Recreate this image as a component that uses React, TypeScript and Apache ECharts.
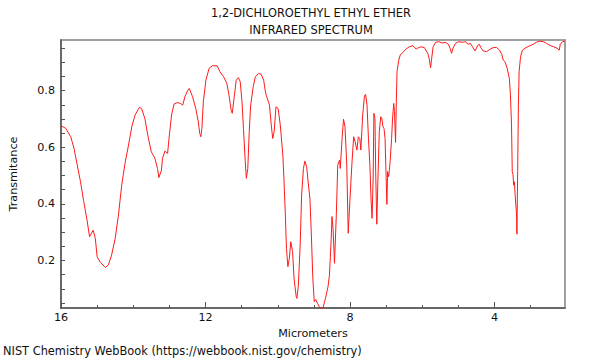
import React, { useEffect, useRef } from "react";
import * as echarts from "echarts";

const wavelengths: number[] = [
  16.0, 15.87, 15.73, 15.64, 15.55, 15.46, 15.37, 15.28, 15.21, 15.11, 15.05, 15.0, 14.91, 14.77, 14.69,
  14.6, 14.5, 14.41, 14.32, 14.22, 14.13, 14.04, 13.95, 13.83, 13.77, 13.68, 13.59, 13.5, 13.4, 13.33,
  13.29, 13.22, 13.19, 13.12, 13.05, 13.01, 12.94, 12.87, 12.77, 12.7, 12.63, 12.57, 12.49, 12.45, 12.36,
  12.27, 12.2, 12.16, 12.13, 12.1, 12.06, 11.99, 11.9, 11.81, 11.68, 11.6, 11.5, 11.41, 11.35, 11.29,
  11.26, 11.2, 11.15, 11.09, 11.04, 10.99, 10.95, 10.9, 10.87, 10.83, 10.79, 10.75, 10.68, 10.62, 10.53,
  10.46, 10.39, 10.35, 10.32, 10.23, 10.18, 10.14, 10.1, 10.05, 9.99, 9.93, 9.86, 9.83, 9.79, 9.76,
  9.72, 9.68, 9.64, 9.59, 9.55, 9.49, 9.47, 9.43, 9.38, 9.34, 9.29, 9.25, 9.2, 9.16, 9.11,
  9.07, 9.03, 8.99, 8.95, 8.9, 8.83, 8.75, 8.68, 8.61, 8.57, 8.52, 8.5, 8.47, 8.43, 8.38,
  8.34, 8.29, 8.27, 8.22, 8.18, 8.14, 8.09, 8.05, 8.01, 7.95, 7.9, 7.86, 7.81, 7.77, 7.73,
  7.7, 7.65, 7.6, 7.57, 7.53, 7.49, 7.45, 7.42, 7.39, 7.36, 7.34, 7.31, 7.29, 7.26, 7.23,
  7.19, 7.15, 7.12, 7.09, 7.06, 7.03, 7.0, 6.98, 6.96, 6.93, 6.89, 6.85, 6.82, 6.79, 6.77,
  6.74, 6.72, 6.7, 6.65, 6.61, 6.54, 6.45, 6.36, 6.26, 6.17, 6.13, 6.04, 5.94, 5.85, 5.81,
  5.77, 5.74, 5.7, 5.63, 5.54, 5.45, 5.37, 5.28, 5.23, 5.19, 5.15, 5.08, 4.99, 4.89, 4.8,
  4.74, 4.67, 4.61, 4.54, 4.47, 4.42, 4.38, 4.31, 4.22, 4.13, 4.04, 3.95, 3.86, 3.8, 3.76,
  3.71, 3.65, 3.59, 3.56, 3.53, 3.51, 3.49, 3.47, 3.45, 3.43, 3.39, 3.38, 3.36, 3.34, 3.32,
  3.28, 3.23, 3.13, 3.02, 2.93, 2.84, 2.74, 2.65, 2.56, 2.45, 2.36, 2.27, 2.21, 2.18, 2.12,
  2.05,
];

const transmittance: number[] = [
  0.676, 0.667, 0.637, 0.596, 0.537, 0.478, 0.408, 0.343, 0.284, 0.307, 0.278, 0.213, 0.193, 0.175, 0.184,
  0.219, 0.278, 0.36, 0.466, 0.549, 0.608, 0.673, 0.714, 0.741, 0.737, 0.702, 0.637, 0.584, 0.561, 0.525,
  0.493, 0.519, 0.561, 0.587, 0.578, 0.631, 0.714, 0.753, 0.758, 0.755, 0.749, 0.779, 0.802, 0.808, 0.779,
  0.737, 0.69, 0.649, 0.637, 0.667, 0.761, 0.837, 0.879, 0.888, 0.888, 0.867, 0.849, 0.826, 0.784, 0.731,
  0.72, 0.784, 0.837, 0.846, 0.832, 0.761, 0.667, 0.549, 0.49, 0.525, 0.655, 0.749, 0.814, 0.849, 0.861,
  0.858, 0.837, 0.802, 0.784, 0.749, 0.678, 0.631, 0.655, 0.743, 0.737, 0.678, 0.572, 0.49, 0.36, 0.243,
  0.178, 0.207, 0.266, 0.231, 0.137, 0.072, 0.066, 0.113, 0.254, 0.431, 0.525, 0.551, 0.531, 0.478, 0.419,
  0.29, 0.137, 0.054, 0.062, 0.048, 0.032, 0.032, 0.066, 0.107, 0.148, 0.278, 0.355, 0.313, 0.19, 0.36,
  0.537, 0.555, 0.525, 0.631, 0.699, 0.673, 0.537, 0.296, 0.396, 0.537, 0.637, 0.62, 0.59, 0.637, 0.631,
  0.59, 0.714, 0.782, 0.787, 0.749, 0.631, 0.537, 0.419, 0.349, 0.49, 0.72, 0.702, 0.514, 0.328, 0.478,
  0.655, 0.708, 0.702, 0.673, 0.667, 0.631, 0.49, 0.398, 0.514, 0.496, 0.549, 0.631, 0.708, 0.755, 0.726,
  0.617, 0.749, 0.867, 0.908, 0.926, 0.935, 0.947, 0.955, 0.959, 0.947, 0.95, 0.955, 0.952, 0.932, 0.914,
  0.881, 0.914, 0.955, 0.971, 0.973, 0.968, 0.971, 0.964, 0.95, 0.932, 0.95, 0.967, 0.973, 0.971, 0.973,
  0.964, 0.967, 0.955, 0.94, 0.959, 0.964, 0.952, 0.94, 0.938, 0.946, 0.952, 0.953, 0.943, 0.928, 0.908,
  0.902, 0.879, 0.843, 0.784, 0.678, 0.514, 0.504, 0.466, 0.478, 0.431, 0.36, 0.293, 0.514, 0.749, 0.867,
  0.92, 0.943, 0.952, 0.959, 0.964, 0.971, 0.975, 0.973, 0.967, 0.959, 0.955, 0.95, 0.943, 0.964, 0.973,
  0.975,
];

const xMajorTicks = [4, 8, 12, 16];
const xMinorTicks = [3, 5, 6, 7, 9, 10, 11, 13, 14, 15];
const yLabelValues = [0.2, 0.4, 0.6, 0.8];
const yTickValues = [0.05, 0.1, 0.15, 0.2, 0.25, 0.3, 0.35, 0.4, 0.45, 0.5, 0.55, 0.6, 0.65, 0.7, 0.75, 0.8, 0.85, 0.9, 0.95];

const titleLines = ["1,2-DICHLOROETHYL ETHYL ETHER", "INFRARED SPECTRUM"];
const footerText = "NIST Chemistry WebBook (https://webbook.nist.gov/chemistry)";

const FONT = "DejaVu Sans";
const X_MIN = 2.05;
const X_MAX = 16;
const Y_MIN = 0.032;
const Y_MAX = 0.979;

export default function App() {
  const ref = useRef<HTMLDivElement>(null);

  useEffect(() => {
    if (!ref.current) return;
    const chart = echarts.init(ref.current, null, { renderer: "svg" });
    const points = wavelengths.map((w, i) => [w, transmittance[i]]);
    const axisColor = "#555";
    chart.setOption({
      animation: false,
      textStyle: { fontFamily: FONT },
      title: [
        {
          text: titleLines.join("\n"),
          left: 311,
          textAlign: "center",
          top: 4,
          padding: 0,
          textStyle: { fontFamily: FONT, fontSize: 11.4, fontWeight: "normal", color: "#111", lineHeight: 17 },
        },
        {
          text: footerText,
          left: 3,
          top: 345,
          padding: 0,
          textStyle: { fontFamily: FONT, fontSize: 11.4, fontWeight: "normal", color: "#111" },
        },
      ],
      grid: {
        left: 57,
        right: 35,
        top: 40,
        bottom: 52,
        show: true,
        borderColor: "#a0a0a0",
        borderWidth: 2,
      },
      xAxis: [
        {
          type: "value",
          inverse: true,
          min: X_MIN,
          max: X_MAX,
          position: "bottom",
          name: "Micrometers",
          nameLocation: "middle",
          nameGap: 20,
          nameTextStyle: { fontFamily: FONT, fontSize: 11.2, color: "#111" },
          axisLine: { show: true, lineStyle: { color: axisColor, width: 1.5 } },
          axisTick: { show: true, inside: true, length: 6, customValues: xMajorTicks, lineStyle: { color: axisColor } },
          axisLabel: { customValues: xMajorTicks, fontFamily: FONT, fontSize: 11.2, color: "#111", margin: 4 },
          splitLine: { show: false },
        },
        {
          type: "value",
          inverse: true,
          min: X_MIN,
          max: X_MAX,
          position: "bottom",
          axisLine: { show: false },
          axisTick: { show: true, inside: true, length: 3, customValues: xMinorTicks, lineStyle: { color: axisColor } },
          axisLabel: { show: false },
          splitLine: { show: false },
        },
      ],
      yAxis: {
        type: "value",
        min: Y_MIN,
        max: Y_MAX,
        name: "Transmitance",
        nameLocation: "middle",
        nameGap: 42,
        nameTextStyle: { fontFamily: FONT, fontSize: 11.2, color: "#111" },
        axisLine: { show: true, lineStyle: { color: axisColor, width: 1.5 } },
        axisTick: { show: true, inside: true, length: 4, customValues: yTickValues, lineStyle: { color: axisColor } },
        axisLabel: {
          customValues: yLabelValues,
          fontFamily: FONT,
          fontSize: 11.2,
          color: "#111",
          margin: 6,
          formatter: (v: number) => v.toFixed(1),
        },
        splitLine: { show: false },
      },
      series: [
        {
          type: "line",
          data: points,
          xAxisIndex: 0,
          showSymbol: false,
          symbol: "none",
          lineStyle: { color: "#ff1a1a", width: 1 },
          clip: true,
        },
      ],
    });
    return () => chart.dispose();
  }, []);

  return (
    <div
      ref={ref}
      style={{ position: "fixed", left: 0, top: 0, width: 600, height: 360, background: "#fff" }}
    />
  );
}
